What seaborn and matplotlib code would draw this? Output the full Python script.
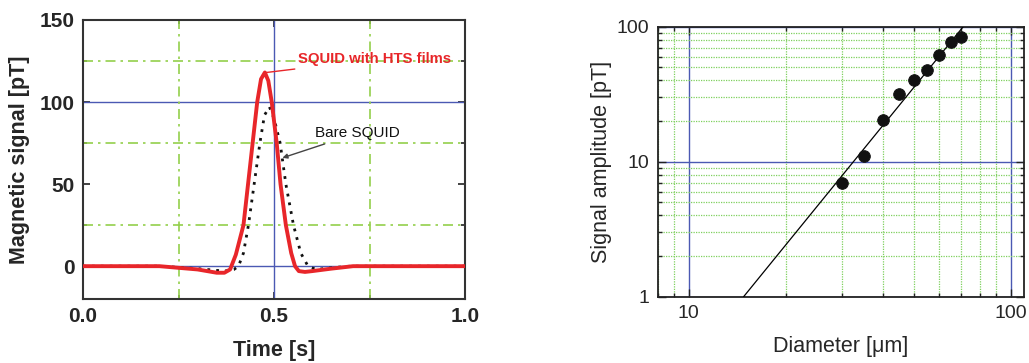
import matplotlib
matplotlib.use("Agg")
import matplotlib.pyplot as plt
import seaborn as sns
import pandas as pd
from matplotlib.ticker import FixedLocator, NullFormatter, LogLocator

sns.set_theme(style="white")
plt.rcParams['font.family'] = ['Liberation Sans', 'DejaVu Sans']

# ---- Left panel data: magnetic signal vs time ----
t_red = [0.0, 0.1, 0.2, 0.25, 0.30, 0.35, 0.37, 0.385, 0.40, 0.42, 0.444, 0.456, 0.466,
         0.476, 0.485, 0.494, 0.507, 0.517, 0.531, 0.545, 0.555, 0.565, 0.581, 0.60,
         0.65, 0.707, 0.8, 0.9, 1.0]
v_red = [0, 0, 0, -1, -2, -4, -4, -2, 7, 25, 75, 100, 114,
         118, 113, 100, 75, 50, 25, 8, 0, -3, -3.5, -3,
         -1.5, 0, 0, 0, 0]

t_bare = [0.0, 0.2, 0.3, 0.37, 0.395, 0.407, 0.42, 0.433, 0.448, 0.463, 0.475, 0.488,
          0.50, 0.516, 0.531, 0.551, 0.57, 0.589, 0.61, 0.65, 0.7, 1.0]
v_bare = [0, 0, -1.5, -3, -2, 0, 8, 25, 50, 75, 92, 97,
          90, 75, 50, 25, 8, 0, -2, -1, 0, 0]

left_yticks = [0, 50, 100, 150]
left_yticklabels = ["0", "50", "100", "150"]
left_xticks = [0.0, 0.5, 1.0]
left_xticklabels = ["0.0", "0.5", "1.0"]

# ---- Right panel data: signal amplitude vs diameter ----
diam = [30, 35, 40, 45, 50, 55, 60, 65, 70]
amp = [7.0, 11.1, 20.3, 32, 40, 48, 62, 77, 84]
fit_d = [14.8, 71.1]
fit_amp = [1.0, 100.0]

fig = plt.figure(figsize=(10.29, 3.63), dpi=100)
axL = fig.add_axes([0.0807, 0.1763, 0.3712, 0.7687])
axR = fig.add_axes([0.639, 0.1826, 0.3564, 0.7438])

# ----- Left panel -----
blue = "#4b59b3"
green_l = "#94cf4c"
for y in [0, 100]:
    axL.axhline(y, color=blue, lw=1.0, zorder=1)
axL.axvline(0.5, color=blue, lw=1.0, zorder=1)
for y in [25, 75, 125]:
    axL.axhline(y, color=green_l, lw=1.2, ls=(0, (6, 3, 1.5, 3)), zorder=1)
for x in [0.25, 0.75]:
    axL.axvline(x, color=green_l, lw=1.2, ls=(0, (6, 3, 1.5, 3)), zorder=1)

df_bare = pd.DataFrame({"t": t_bare, "v": v_bare})
df_red = pd.DataFrame({"t": t_red, "v": v_red})
sns.lineplot(data=df_bare, x="t", y="v", ax=axL, color="#111111", lw=2.0,
             linestyle=(0, (1, 2.2)), zorder=3)
sns.lineplot(data=df_red, x="t", y="v", ax=axL, color="#e8262a", lw=2.8, zorder=4)

axL.set_xlim(0, 1.0)
axL.set_ylim(-20, 150)
axL.set_xticks(left_xticks)
axL.set_xticklabels(left_xticklabels)
axL.set_yticks(left_yticks)
axL.set_yticklabels(left_yticklabels)
axL.xaxis.set_minor_locator(FixedLocator([0.25, 0.75]))
axL.yaxis.set_minor_locator(FixedLocator([25, 75, 125]))
axL.tick_params(which="both", direction="in", top=True, right=True, bottom=True, left=True,
                color="#222222", width=1.2)
axL.tick_params(which="major", length=5, labelsize=15, pad=6)
axL.tick_params(which="minor", length=3)
for lab in axL.get_xticklabels() + axL.get_yticklabels():
    lab.set_fontweight("bold")
for s in axL.spines.values():
    s.set_color("#333333")
    s.set_linewidth(1.5)
axL.set_xlabel("Time [s]", fontsize=15.5, fontweight="bold", labelpad=10)
axL.set_ylabel("Magnetic signal [pT]", fontsize=15.5, fontweight="bold", labelpad=7)

axL.annotate("SQUID with HTS films", xy=(0.48, 118), xytext=(0.563, 126),
             color="#e8262a", fontsize=10.7, fontweight="bold", va="center",
             arrowprops=dict(arrowstyle="-", color="#e8262a", lw=1.0,
                             shrinkA=0, shrinkB=0))
axL.annotate("Bare SQUID", xy=(0.522, 66), xytext=(0.607, 81),
             color="#111111", fontsize=11, va="center",
             arrowprops=dict(arrowstyle="-|>", color="#444444", lw=1.0,
                             mutation_scale=7, shrinkA=1, shrinkB=0))

# ----- Right panel -----
axR.set_xscale("log")
axR.set_yscale("log")
axR.set_xlim(8, 110)
axR.set_ylim(1, 100)
axR.xaxis.set_minor_locator(LogLocator(base=10, subs=range(2, 10)))
axR.yaxis.set_minor_locator(LogLocator(base=10, subs=range(2, 10)))
axR.xaxis.set_minor_formatter(NullFormatter())
axR.yaxis.set_minor_formatter(NullFormatter())
axR.grid(which="minor", color="#7fd05e", lw=0.9, ls=(0, (1, 1)), zorder=0)
axR.grid(which="major", color=blue, lw=1.0, ls="-", zorder=0)
axR.set_axisbelow(True)

sns.lineplot(x=fit_d, y=fit_amp, ax=axR, color="black", lw=0.9, zorder=3)
sns.scatterplot(x=diam, y=amp, ax=axR, color="#111111", s=70, edgecolor="#111111",
                zorder=4)

axR.set_xticks([10, 100])
axR.set_xticklabels(["10", "100"])
axR.set_yticks([1, 10, 100])
axR.set_yticklabels(["1", "10", "100"])
axR.tick_params(which="both", direction="in", top=True, right=True, bottom=True, left=True,
                color="#222222", width=1.0)
axR.tick_params(which="major", length=6, labelsize=14, pad=6)
axR.tick_params(which="minor", length=3)
for s in axR.spines.values():
    s.set_color("#222222")
    s.set_linewidth(1.3)
axR.set_xlabel("Diameter [\u03bcm]", fontsize=15.5, labelpad=10)
axR.set_ylabel("Signal amplitude [pT]", fontsize=15.5, labelpad=3)

fig.savefig("out.png", dpi=100)
